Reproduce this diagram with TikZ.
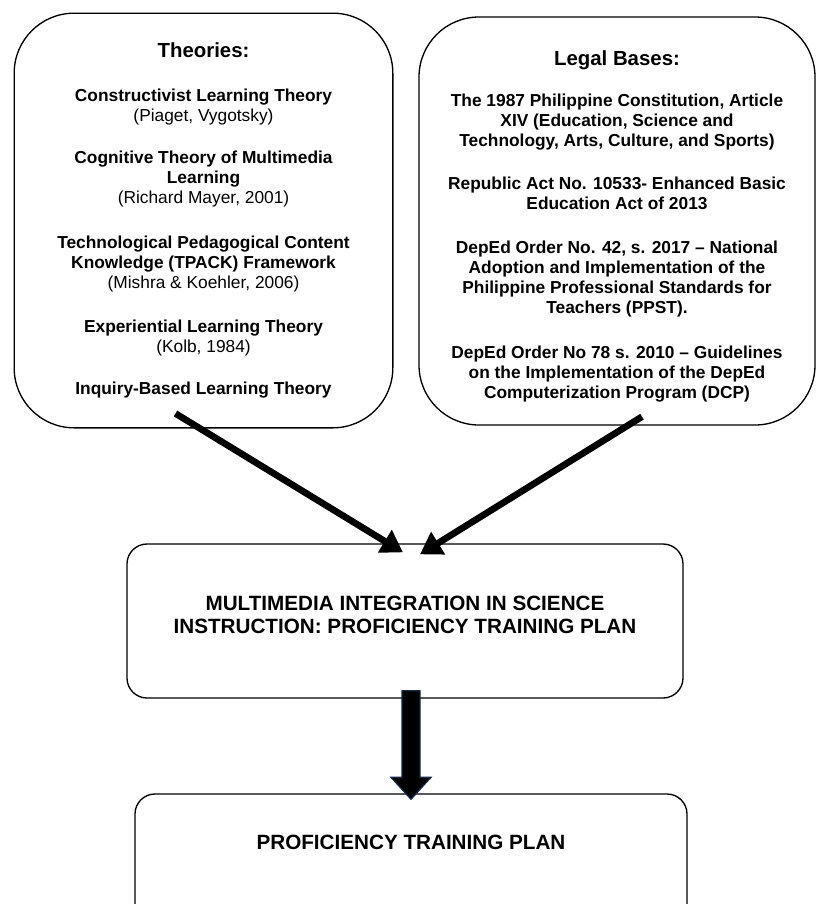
\documentclass[tikz,border=0pt]{standalone}
\usepackage{fontspec}
\setmainfont{Liberation Sans}
\usepackage{xcolor}
\usetikzlibrary{arrows.meta, calc}

\definecolor{arrnavy}{RGB}{25,40,70}

\begin{document}
\begin{tikzpicture}[
  x=0.75pt, y=-0.75pt,
  font=\fontsize{13}{15}\selectfont\bfseries,
  bigbox/.style={draw, line width=1pt, rounded corners=45pt, align=center, inner sep=0pt},
  box/.style={draw, line width=1pt, rounded corners=15pt, align=center, inner sep=0pt},
  caps/.style={font=\fontsize{15.5}{17.5}\selectfont\bfseries, align=center},
  arr/.style={-{Triangle[length=16pt, width=19pt]}, line width=5pt},
  blockarr/.style={draw=arrnavy, fill=black, line width=0.9pt, line join=miter},
]

\path[use as bounding box, clip] (0,0) rectangle (816,904);

\node[bigbox, minimum width=284pt, minimum height=311pt] (theory) at (203.5,220.5)
  {{\fontsize{15.3}{15}\selectfont Theories:}\\[18pt]
   Constructivist Learning Theory\\
   {\mdseries (Piaget, Vygotsky)}\\[16.5pt]
   Cognitive Theory of Multimedia\\
   Learning\\
   {\mdseries (Richard Mayer, 2001)}\\[18.5pt]
   Technological Pedagogical Content\\
   Knowledge (TPACK) Framework\\
   {\mdseries (Mishra \& Koehler, 2006)}\\[18pt]
   Experiential Learning Theory\\
   {\mdseries (Kolb, 1984)}\\[16.5pt]
   Inquiry-Based Learning Theory};

\node[bigbox, minimum width=297pt, minimum height=306pt] (legal) at (617,221) {};
\node[align=center] (legaltext) at ($(legal.center)+(0,5)$)
  {{\fontsize{15.3}{15}\selectfont Legal Bases:}\\[15.75pt]
   The 1987 Philippine Constitution, Article\\
   XIV (Education, Science and\\
   Technology, Arts, Culture, and Sports)\\[17.25pt]
   Republic Act No. 10533- Enhanced Basic\\
   Education Act of 2013\\[18pt]
   DepEd Order No. 42, s. 2017 -- National\\
   Adoption and Implementation of the\\
   Philippine Professional Standards for\\
   Teachers (PPST).\\[18.75pt]
   DepEd Order No 78 s. 2010 -- Guidelines\\
   on the Implementation of the DepEd\\
   Computerization Program (DCP)};

\node[box, minimum width=417pt, minimum height=115.5pt] (mmi) at (405,621) {};
\node[caps] (mmititle) at ($(mmi.center)+(0,-6)$)
  {MULTIMEDIA INTEGRATION IN SCIENCE\\
   INSTRUCTION: PROFICIENCY TRAINING PLAN};

\node[box, minimum width=414pt, minimum height=105pt] (plan) at (411,864) {};
\node[caps] (plantitle) at ($(plan.north)+(0,49)$) {PROFICIENCY TRAINING PLAN};

\draw[arr] ($(theory.south)+(-28,-15)$) -- ($(mmi.north)+(-2,9)$);
\draw[arr] ($(legal.south)+(25,-9)$) -- ($(mmi.north)+(15,11)$);

\draw[blockarr] ($(mmi.south -| plan.north)+(-9,-8)$) -- ($(plan.north)+(-9,-16)$)
  -- ($(plan.north)+(-20,-16)$) -- ($(plan.north)+(0,6)$) -- ($(plan.north)+(20,-16)$)
  -- ($(plan.north)+(9,-16)$) -- ($(mmi.south -| plan.north)+(9,-8)$) -- cycle;

\end{tikzpicture}
\end{document}
